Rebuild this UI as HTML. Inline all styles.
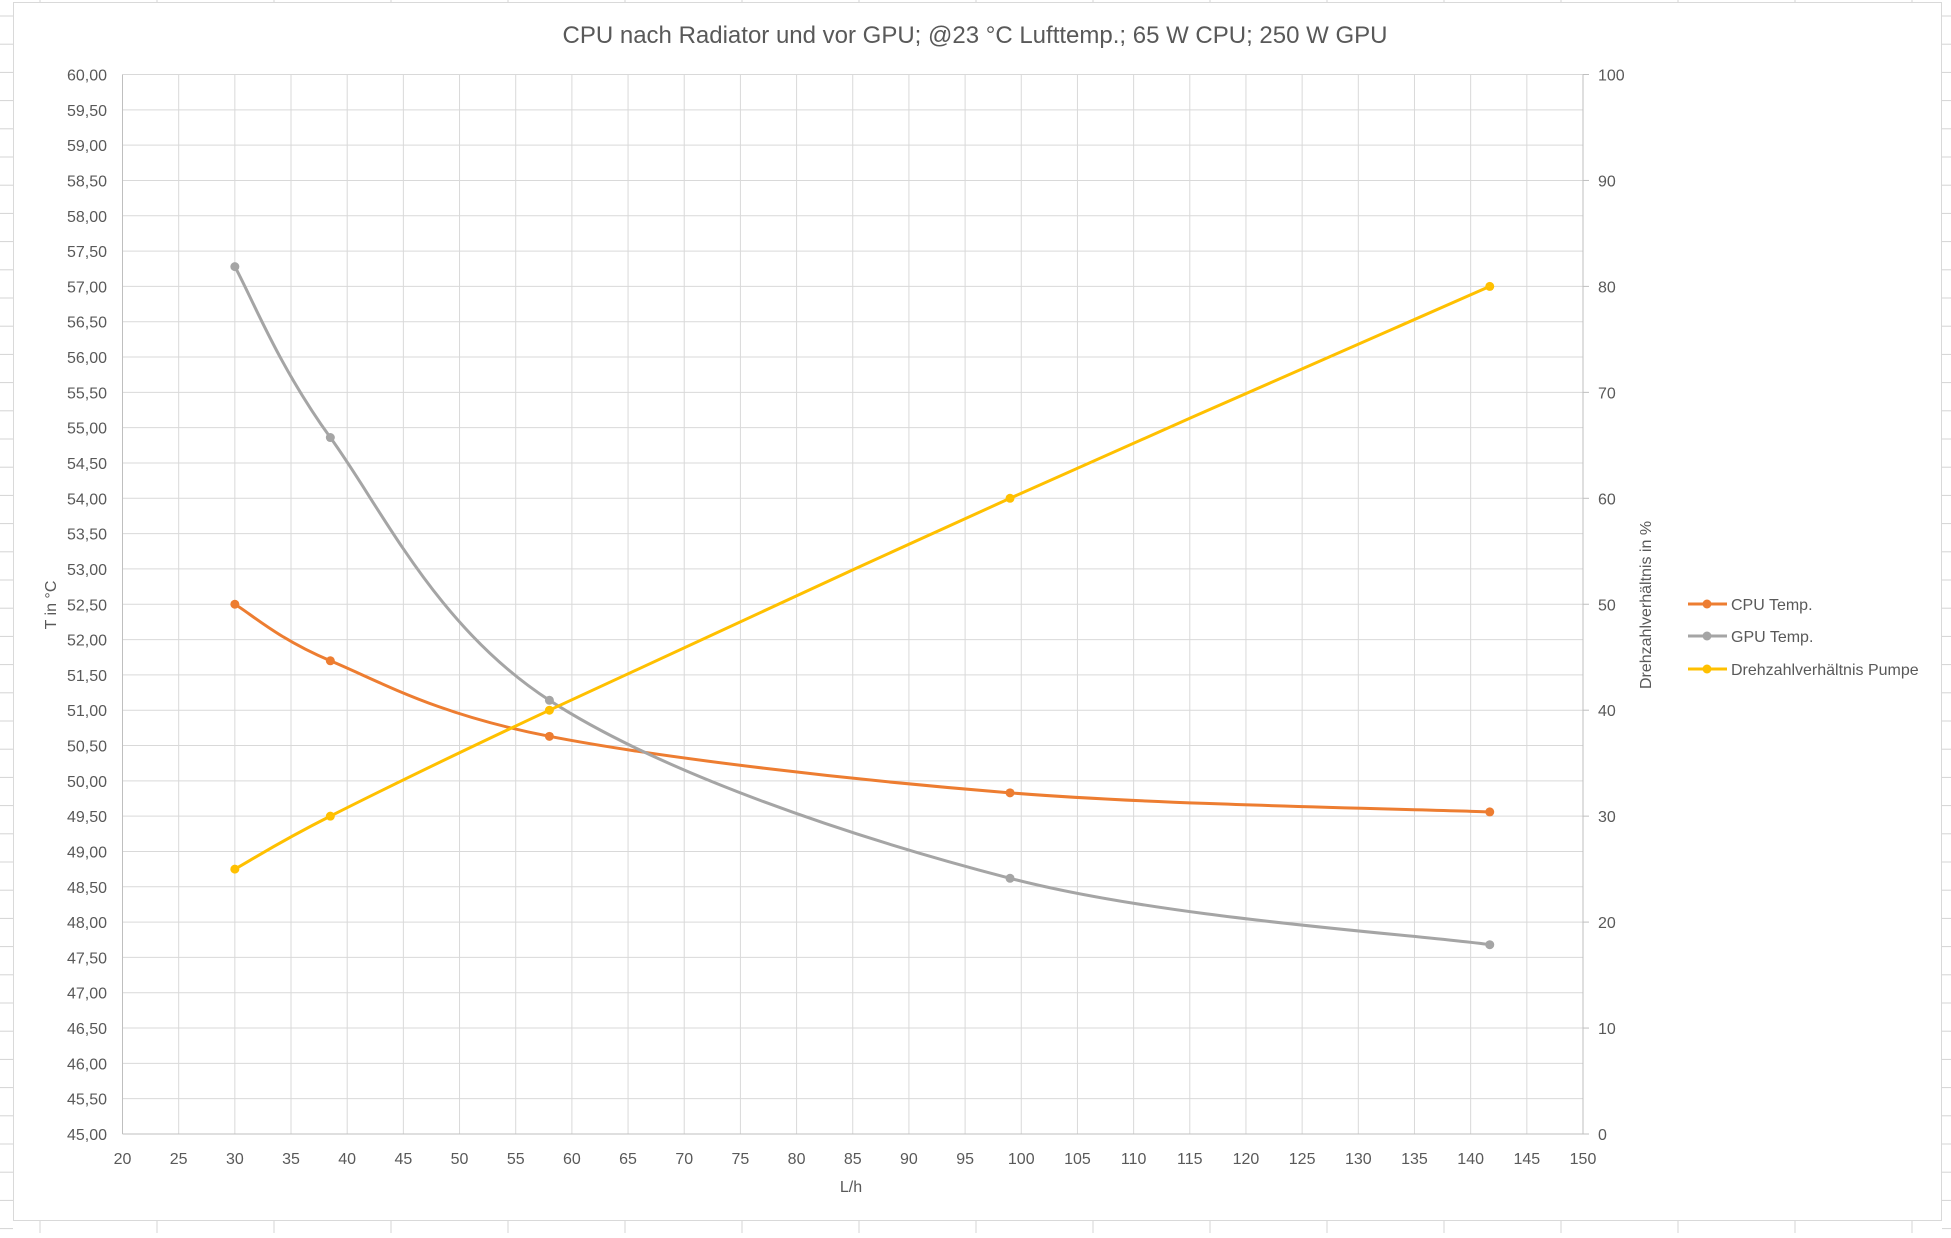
<!DOCTYPE html>
<html><head><meta charset="utf-8"><style>
html,body{margin:0;padding:0;background:#fff;}
svg text{font-family:"Liberation Sans",sans-serif;fill:#595959;}
</style></head><body>
<svg id="s" width="1951" height="1233" xmlns="http://www.w3.org/2000/svg"></svg>
<script>
var s=document.getElementById('s'),h='';
for(var y=16;y<1233;y+=28.2){h+='<line x1="0" y1="'+y+'" x2="13" y2="'+y+'" stroke="#d4d4d4"/>';h+='<line x1="1942" y1="'+y+'" x2="1951" y2="'+y+'" stroke="#d4d4d4"/>';}
[40,157,274,391,508,625,742,859,976,1093,1210,1327,1444,1561,1678,1795,1912].forEach(function(x){h+='<line x1="'+x+'" y1="0" x2="'+x+'" y2="2" stroke="#d4d4d4"/><line x1="'+x+'" y1="1221" x2="'+x+'" y2="1233" stroke="#d4d4d4"/>';});
h+='<rect x="13.5" y="2.5" width="1928" height="1218" fill="#fff" stroke="#d9d9d9"/>';
var L=122.5,R=1583,T=74.5,B=1134;
function X(v){return L+(v-20)*(R-L)/130;}
function Y(v){return B-(v-45)*(B-T)/15;}
function Y2(v){return B-v*(B-T)/100;}
for(var v=25;v<=150;v+=5)h+='<line x1="'+X(v)+'" y1="'+T+'" x2="'+X(v)+'" y2="'+B+'" stroke="#d9d9d9"/>';
for(var i=1;i<=30;i++){var yy=Y(45+i*0.5);h+='<line x1="'+L+'" y1="'+yy+'" x2="'+R+'" y2="'+yy+'" stroke="#d9d9d9"/>';}
h+='<line x1="'+L+'" y1="'+T+'" x2="'+L+'" y2="'+B+'" stroke="#bfbfbf"/>';
h+='<line x1="'+R+'" y1="'+T+'" x2="'+R+'" y2="'+B+'" stroke="#bfbfbf"/>';
h+='<line x1="'+L+'" y1="'+B+'" x2="'+(R+6)+'" y2="'+B+'" stroke="#bfbfbf"/>';
for(var i=0;i<=30;i++){var val=45+i*0.5;h+='<text x="107" y="'+(Y(val)+6)+'" font-size="16" text-anchor="end">'+val.toFixed(2).replace('.',',')+'</text>';}
for(var i=0;i<=10;i++){h+='<line x1="'+R+'" y1="'+Y2(i*10)+'" x2="'+(R+6)+'" y2="'+Y2(i*10)+'" stroke="#bfbfbf"/>';h+='<text x="1598" y="'+(Y2(i*10)+6)+'" font-size="16">'+(i*10)+'</text>';}
for(var v=20;v<=150;v+=5)h+='<text x="'+X(v)+'" y="1164" font-size="16" text-anchor="middle">'+v+'</text>';
h+='<text x="851" y="1192" font-size="16" text-anchor="middle">L/h</text>';
h+='<text x="975" y="43" font-size="24" text-anchor="middle">CPU nach Radiator und vor GPU; @23 °C Lufttemp.; 65 W CPU; 250 W GPU</text>';
h+='<text transform="translate(56,605) rotate(-90)" font-size="16" text-anchor="middle">T in °C</text>';
h+='<text transform="translate(1651,605) rotate(-90)" font-size="16" text-anchor="middle">Drehzahlverhältnis in %</text>';
var xs=[30,38.5,58,99,141.7];
var ser=[[[52.5,51.7,50.63,49.83,49.56],'#ed7d31',Y],[[57.28,54.86,51.14,48.62,47.68],'#a5a5a5',Y],[[25,30,40,60,80],'#ffc000',Y2]];
function path(p){var d='M'+p[0][0]+','+p[0][1];for(var i=0;i<p.length-1;i++){var p0=p[i-1]||p[i],p1=p[i],p2=p[i+1],p3=p[i+2]||p2,t=6;
d+=' C'+(p1[0]+(p2[0]-p0[0])/t)+','+(p1[1]+(p2[1]-p0[1])/t)+' '+(p2[0]-(p3[0]-p1[0])/t)+','+(p2[1]-(p3[1]-p1[1])/t)+' '+p2[0]+','+p2[1];}return d;}
ser.forEach(function(sr){var p=xs.map(function(x,i){return [X(x),sr[2](sr[0][i])];});
h+='<path d="'+path(p)+'" fill="none" stroke="'+sr[1]+'" stroke-width="3"/>';
p.forEach(function(q){h+='<circle cx="'+q[0]+'" cy="'+q[1]+'" r="4.5" fill="'+sr[1]+'"/>';});});
var lg=[['CPU Temp.','#ed7d31',604],['GPU Temp.','#a5a5a5',636],['Drehzahlverhältnis Pumpe','#ffc000',669]];
lg.forEach(function(l){h+='<line x1="1688" y1="'+l[2]+'" x2="1727" y2="'+l[2]+'" stroke="'+l[1]+'" stroke-width="3"/><circle cx="1707" cy="'+l[2]+'" r="4.5" fill="'+l[1]+'"/><text x="1731" y="'+(l[2]+6)+'" font-size="16">'+l[0]+'</text>';});
s.innerHTML=h;
</script>
</body></html>
